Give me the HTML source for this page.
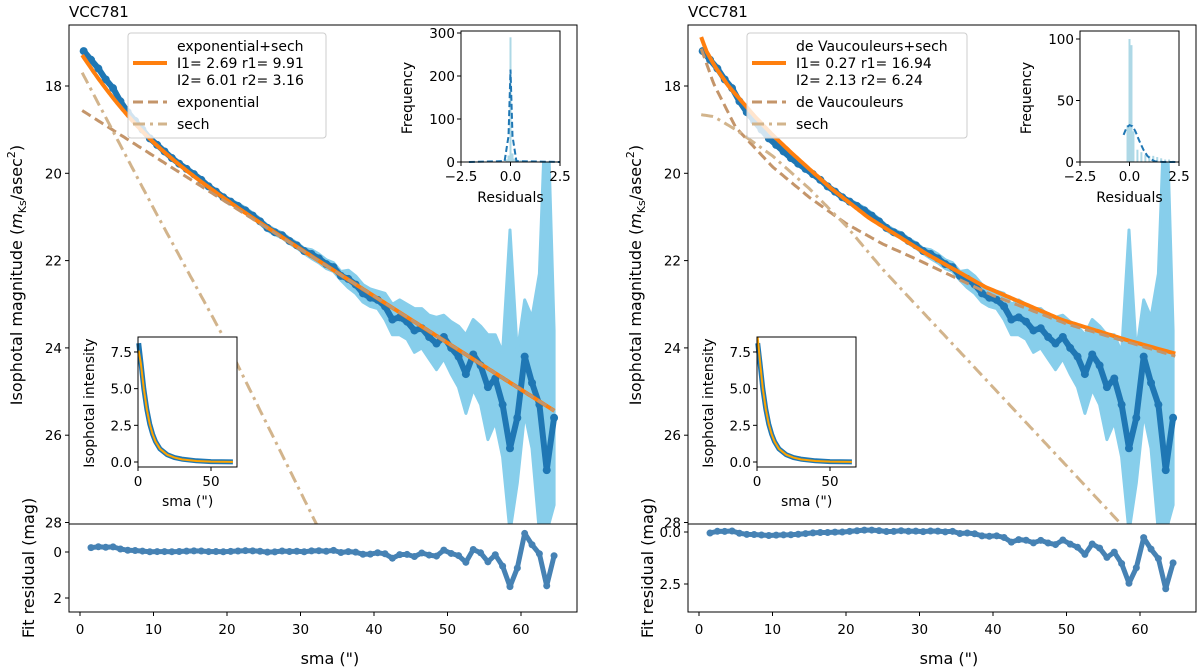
<!DOCTYPE html>
<html><head><meta charset="utf-8">
<style>
html,body{margin:0;padding:0;background:#fff;overflow:hidden;width:1200px;height:672px;}
svg{display:block;overflow:hidden;font-family:"DejaVu Sans","Liberation Sans",sans-serif;}
</style></head>
<body>
<svg id="fig" width="1200" height="672" viewBox="0 0 1200 672" xmlns="http://www.w3.org/2000/svg"></svg>
<script>
// ---- data ----
const SMA = [0.5,1.5,2.5,3.5,4.5,5.5,6.5,7.5,8.5,9.5,10.5,11.5,12.5,13.5,14.5,15.5,16.5,17.5,18.5,19.5,20.5,21.5,22.5,23.5,24.5,25.5,26.5,27.5,28.5,29.5,30.5,31.5,32.5,33.5,34.5,35.5,36.5,37.5,38.5,39.5,40.5,41.5,42.5,43.5,44.5,45.5,46.5,47.5,48.5,49.5,50.5,51.5,52.5,53.5,54.5,55.5,56.5,57.5,58.5,59.5,60.5,61.5,62.5,63.5,64.5];
const OBS = [17.2,17.4,17.6,17.85,18.05,18.35,18.6,18.8,19.0,19.2,19.35,19.5,19.65,19.78,19.9,20.02,20.15,20.3,20.42,20.55,20.65,20.75,20.85,20.97,21.1,21.25,21.35,21.42,21.55,21.65,21.78,21.85,21.95,22.08,22.15,22.35,22.42,22.55,22.75,22.85,22.9,23.05,23.35,23.3,23.4,23.6,23.55,23.75,23.9,23.75,24.0,24.2,24.6,24.15,24.4,24.9,24.7,25.3,26.3,25.6,24.2,24.8,25.3,26.8,25.6];
const ERR = [0.04,0.04,0.04,0.04,0.04,0.04,0.04,0.04,0.04,0.04,0.04,0.04,0.04,0.04,0.04,0.04,0.04,0.04,0.04,0.04,0.04,0.06,0.06,0.06,0.06,0.06,0.06,0.06,0.06,0.06,0.06,0.1,0.1,0.1,0.1,0.1,0.2,0.2,0.2,0.2,0.2,0.3,0.35,0.4,0.4,0.5,0.45,0.5,0.6,0.5,0.6,0.7,0.9,0.8,0.9,1.2,1.0,1.2,5,1.5,1.3,1.5,3,9,2];
// left model components
const EXP_X = [0,65];
const EXP_M = [18.53,25.49];
const SECHL_X = [0,5,10,15,20,25,30,35];
const SECHL_M = [17.6,19.2,20.8,22.35,23.9,25.6,27.3,29.0];
// right model components and total fit
const DEV_X = [0,2,5,10,15,20,25,30,40,50,65];
const DEV_M = [17.0,17.95,18.95,19.85,20.55,21.15,21.62,22.0,22.8,23.45,24.2];
const SECHR_X = [0,2,5,10,15,20,25,30,40,50,60,65];
const SECHR_M = [18.65,18.7,19.0,19.6,20.35,21.2,22.2,23.1,24.9,26.7,28.5,29.4];
const FITR_X = [0.3,1,2.2,4,7.5,10,12.7,15,18,23.1,31,38.9,49.4,58.2,65];
const FITR_M = [16.88,17.2,17.56,18.0,18.68,19.12,19.55,19.9,20.35,21.02,21.85,22.6,23.36,23.82,24.14];
// histogram insets
const HISTL_X = [-2.0,-1.5,-1.0,-0.5,-0.2,-0.1,0.0,0.1,0.2,0.5,1.0,1.5,2.0];
const HISTL_C = [1,1,3,4,6,15,290,20,8,4,2,1,1];
const KDEL_X = [-2.1,-0.3,-0.1,0.0,0.1,0.3,2.5];
const KDEL_C = [0,2,60,215,60,2,0];
const HISTR_X = [-0.1,0.0,0.1,0.2,0.4,0.6,0.8,1.0,1.2,1.4,1.6,1.8,2.0,2.2];
const HISTR_C = [30,100,95,25,10,8,6,5,5,4,3,2,2,1];
const KDER_X = [-0.3,-0.15,0.0,0.15,0.3,0.5,0.7,0.9,1.1,1.3,1.7,2.5];
const KDER_C = [22,28,30,29,25,17,10,5,2,0.5,0,0];
// intensity insets
const INT_X = [0.5,2,4,6,8,10,12,15,20,25,30,40,50,65];
const INT_OBS = [8.1,6.8,5.0,3.6,2.6,1.9,1.4,0.9,0.5,0.3,0.2,0.08,0.03,0.01];
const INT_FIT_L = [7.6,6.7,5.0,3.6,2.6,1.9,1.4,0.9,0.5,0.3,0.18,0.07,0.03,0.01];
const INT_FIT_R = [8.5,6.9,5.0,3.6,2.6,1.9,1.4,0.9,0.5,0.3,0.18,0.07,0.03,0.01];

const NS='http://www.w3.org/2000/svg';
const svg=document.getElementById('fig');
function mk(tag,attrs,parent){const e=document.createElementNS(NS,tag);for(const k in attrs)e.setAttribute(k,attrs[k]);(parent||svg).appendChild(e);return e;}
function interp(xs,ys,x){if(x<=xs[0]){const s=(ys[1]-ys[0])/(xs[1]-xs[0]);return ys[0]+(x-xs[0])*s;}for(let i=1;i<xs.length;i++){if(x<=xs[i]){const t=(x-xs[i-1])/(xs[i]-xs[i-1]);return ys[i-1]+t*(ys[i]-ys[i-1]);}}const n=xs.length;const s=(ys[n-1]-ys[n-2])/(xs[n-1]-xs[n-2]);return ys[n-1]+(x-xs[n-1])*s;}
function comb(a,b){return -2.5*Math.log10(Math.pow(10,-0.4*a)+Math.pow(10,-0.4*b));}
function clamp(v,a,b){return Math.max(a,Math.min(b,v));}
function txt(x,y,s,attrs,parent){const t=mk('text',Object.assign({x:x,y:y,'font-size':13.5,fill:'#000'},attrs||{}),parent);t.textContent=s;return t;}

function panel(P){
  const g=mk('g',{});
  
  
  const dx=P.dx;
  const L=69+dx,R=577+dx,T=25,B=524,RB=612;
  const X=v=>80+dx+v*7.35;
  const Y=m=>86+(m-18)*43.65;
  const Yc=m=>clamp(Y(m),T-8,B+8);
  const RY=r=>P.r0+r*P.rs;
  const RYc=r=>clamp(RY(r),B-6,RB+6);
  const cid='clip'+P.id, rcid='rclip'+P.id;
  const cp=mk('clipPath',{id:cid},g);mk('rect',{x:L,y:T,width:R-L,height:B-T},cp);
  const rcp=mk('clipPath',{id:rcid},g);mk('rect',{x:L,y:B,width:R-L,height:RB-B},rcp);
  const title=txt(L,17,'VCC781',{'font-size':15},g);
  
  
  const main=mk('g',{'clip-path':'url(#'+cid+')'},g);
  
  
  let up=[],lo=[];
  for(let i=0;i<SMA.length;i++){up.push(X(SMA[i]).toFixed(1)+','+Yc(OBS[i]-ERR[i]).toFixed(1));lo.unshift(X(SMA[i]).toFixed(1)+','+Yc(OBS[i]+ERR[i]).toFixed(1));}
  const band=mk('polygon',{points:up.concat(lo).join(' '),fill:'#87ceeb',stroke:'#87ceeb','stroke-width':3,'stroke-linejoin':'round'},main);
  
  
  const opts=SMA.map((s,i)=>X(s).toFixed(1)+','+Yc(OBS[i]).toFixed(1)).join(' ');
  const ol=mk('polyline',{points:opts,fill:'none',stroke:'#1f77b4','stroke-width':6,'stroke-linejoin':'round'},main);
  
  
  SMA.forEach((s,i)=>{const c=mk('circle',{cx:X(s),cy:Yc(OBS[i]),r:4,fill:'#1f77b4'},main);
    
    });
  const fit=P.fit;
  let fp=[];for(let s=0.3;s<=P.xend;s+=0.25)fp.push(X(s).toFixed(1)+','+Yc(fit(s)).toFixed(1));
  const fl=mk('polyline',{points:fp.join(' '),fill:'none',stroke:'#ff7f0e','stroke-width':4},main);
  
  
  let c1=[],c2=[];
  for(let s=0.3;s<=P.xend;s+=0.25){
    const m1=interp(P.c1x,P.c1m,s),m2=interp(P.c2x,P.c2m,s);
    if(Y(m1)<=B+8)c1.push(X(s).toFixed(1)+','+Y(m1).toFixed(1));
    if(Y(m2)<=B+8)c2.push(X(s).toFixed(1)+','+Y(m2).toFixed(1));
  }
  const l1=mk('polyline',{points:c1.join(' '),fill:'none',stroke:'#c4956a','stroke-width':3,'stroke-dasharray':'10,5'},main);
  
  
  const l2=mk('polyline',{points:c2.join(' '),fill:'none',stroke:'#d2b48c','stroke-width':3,'stroke-dasharray':'12,5,3,5'},main);
  
  
  const fr=mk('rect',{x:L,y:T,width:R-L,height:B-T,fill:'none',stroke:'#000','stroke-width':1},g);
  
  
  [18,20,22,24,26,28].forEach(m=>{mk('line',{x1:L-4,x2:L,y1:Y(m),y2:Y(m),stroke:'#000'},g);
    const t=txt(L-7,Y(m)+5,String(m),{'text-anchor':'end'},g);
    
    });
  const yl=mk('text',{x:0,y:0,'font-size':16,'text-anchor':'middle',transform:'translate('+(P.ylx)+',275) rotate(-90)'},g);
  
  
  yl.innerHTML='Isophotal magnitude (<tspan font-style="italic">m</tspan><tspan font-size="11" dy="4">Ks</tspan><tspan dy="-4">/asec</tspan><tspan font-size="11" dy="-7">2</tspan><tspan dy="7">)</tspan>';
  const rg=mk('g',{'clip-path':'url(#'+rcid+')'},g);
  
  
  let rp=[];
  SMA.forEach((s,i)=>{if(s<1.5)return;const r=OBS[i]-fit(s);rp.push(X(s).toFixed(1)+','+RYc(r).toFixed(1));});
  const rl=mk('polyline',{points:rp.join(' '),fill:'none',stroke:'#4682b4','stroke-width':5,'stroke-linejoin':'round'},rg);
  
  
  SMA.forEach((s,i)=>{if(s<1.5)return;const c=mk('circle',{cx:X(s),cy:RYc(OBS[i]-fit(s)),r:3.5,fill:'#4682b4'},rg);
    
    });
  const rf=mk('rect',{x:L,y:B,width:R-L,height:RB-B,fill:'none',stroke:'#000'},g);
  
  
  P.rt.forEach(r=>{mk('line',{x1:L-4,x2:L,y1:RY(r),y2:RY(r),stroke:'#000'},g);
    const t=txt(L-7,RY(r)+5,P.rtl(r),{'text-anchor':'end'},g);
    
    });
  [0,10,20,30,40,50,60].forEach(v=>{mk('line',{x1:X(v),x2:X(v),y1:RB,y2:RB+4,stroke:'#000'},g);
    const t=txt(X(v),RB+22,String(v),{'text-anchor':'middle'},g);
    
    });
  const rl2=txt(0,0,'Fit residual (mag)',{'font-size':16,'text-anchor':'middle',transform:'translate('+(P.ylx+12)+',568) rotate(-90)'},g);
  
  
  const xl=txt(X(34),664,'sma (")',{'font-size':16,'text-anchor':'middle'},g);
  
  
  const lg=mk('g',{},g);
  
  
  mk('rect',{x:P.lgx,y:33,width:P.lgw,height:105,rx:3,fill:'#fff','fill-opacity':0.8,stroke:'#ccc'},lg);
  const sx=P.lgx+5,tx=P.lgx+49;
  mk('line',{x1:sx,x2:sx+34,y1:63,y2:63,stroke:'#ff7f0e','stroke-width':4},lg);
  P.leg1.forEach((s,i)=>{const t=txt(tx,51+i*17,s,{'font-size':14},lg);
    
    });
  mk('line',{x1:sx,x2:sx+34,y1:102,y2:102,stroke:'#c4956a','stroke-width':3,'stroke-dasharray':'10,5'},lg);
  const t2=txt(tx,107,P.leg2,{'font-size':14},lg);
  
  
  mk('line',{x1:sx,x2:sx+34,y1:124,y2:124,stroke:'#d2b48c','stroke-width':3,'stroke-dasharray':'12,5,3,5'},lg);
  const t3=txt(tx,129,'sech',{'font-size':14},lg);
  
  
  const hg=mk('g',{},g);
  
  
  const HL=461+dx,HR=560+dx,HT=31,HB=162;
  const HX=v=>HL+(v+2.5)*(HR-HL)/5, HY=c=>HB-c*P.hs;
  mk('rect',{x:HL,y:HT,width:HR-HL,height:HB-HT,fill:'#fff'},hg);
  P.hx.forEach((v,i)=>{const b=mk('rect',{x:HX(v-0.05),y:HY(P.hc[i]),width:HX(0.1)-HX(0),height:HB-HY(P.hc[i]),fill:'#add8e6'},hg);
    
    });
  const kd=mk('polyline',{points:P.kx.map((v,i)=>HX(v).toFixed(1)+','+HY(P.kc[i]).toFixed(1)).join(' '),fill:'none',stroke:'#1f77b4','stroke-width':2,'stroke-dasharray':'6,3'},hg);
  
  
  mk('rect',{x:HL,y:HT,width:HR-HL,height:HB-HT,fill:'none',stroke:'#000'},hg);
  P.ht.forEach(c=>{mk('line',{x1:HL-4,x2:HL,y1:HY(c),y2:HY(c),stroke:'#000'},hg);txt(HL-6,HY(c)+5,String(c),{'text-anchor':'end'},hg);});
  [[-2.5,'\u22122.5'],[0,'0.0'],[2.5,'2.5']].forEach(a=>{mk('line',{x1:HX(a[0]),x2:HX(a[0]),y1:HB,y2:HB+4,stroke:'#000'},hg);txt(HX(a[0]),HB+19,a[1],{'text-anchor':'middle'},hg);});
  txt(HX(0),HB+40,'Residuals',{'text-anchor':'middle','font-size':14},hg);
  txt(0,0,'Frequency',{'font-size':14,'text-anchor':'middle',transform:'translate('+(HL-49)+',98) rotate(-90)'},hg);
  const ig=mk('g',{},g);
  
  
  const IL=138+dx,IR=237+dx,IT=337,IB=467;
  const IX=v=>IL+v*1.46, IY=v=>462-v*14.67;
  mk('rect',{x:IL,y:IT,width:IR-IL,height:IB-IT,fill:'#fff'},ig);
  const io=mk('polyline',{points:INT_X.map((v,i)=>IX(v).toFixed(1)+','+IY(INT_OBS[i]).toFixed(1)).join(' '),fill:'none',stroke:'#1f77b4','stroke-width':5,'stroke-linejoin':'round'},ig);
  
  
  const ifit=mk('polyline',{points:INT_X.map((v,i)=>IX(v).toFixed(1)+','+IY(P.ifit[i]).toFixed(1)).join(' '),fill:'none',stroke:'#ffa500','stroke-width':2},ig);
  
  
  mk('rect',{x:IL,y:IT,width:IR-IL,height:IB-IT,fill:'none',stroke:'#000'},ig);
  [[7.5,'7.5'],[5,'5.0'],[2.5,'2.5'],[0,'0.0']].forEach(a=>{mk('line',{x1:IL-4,x2:IL,y1:IY(a[0]),y2:IY(a[0]),stroke:'#000'},ig);txt(IL-6,IY(a[0])+5,a[1],{'text-anchor':'end'},ig);});
  [0,50].forEach(v=>{mk('line',{x1:IX(v),x2:IX(v),y1:IB,y2:IB+4,stroke:'#000'},ig);txt(IX(v),IB+19,String(v),{'text-anchor':'middle'},ig);});
  txt(IX(34),506,'sma (")',{'text-anchor':'middle','font-size':14},ig);
  txt(0,0,'Isophotal intensity',{'font-size':14,'text-anchor':'middle',transform:'translate('+(IL-44)+',403) rotate(-90)'},ig);
}

panel({id:'L',name:'left-panel-exponential-sech',dx:0,c1x:EXP_X,c1m:EXP_M,c2x:SECHL_X,c2m:SECHL_M,xend:64.6,
  fit:s=>comb(interp(EXP_X,EXP_M,s),interp(SECHL_X,SECHL_M,s)),
  r0:552,rs:23,rt:[0,2],rtl:r=>String(r),ylx:22,lgx:128,lgw:198,
  leg1:['exponential+sech','I1= 2.69 r1= 9.91','I2= 6.01 r2= 3.16'],leg2:'exponential',
  hx:HISTL_X,hc:HISTL_C,kx:KDEL_X,kc:KDEL_C,hs:0.43,ht:[0,100,200,300],ifit:INT_FIT_L});
panel({id:'R',name:'right-panel-devaucouleurs-sech',dx:619,c1x:DEV_X,c1m:DEV_M,c2x:SECHR_X,c2m:SECHR_M,xend:65,
  fit:s=>interp(FITR_X,FITR_M,s),
  r0:532,rs:20.8,rt:[0,2.5],rtl:r=>r.toFixed(1),ylx:641,lgx:747,lgw:220,
  leg1:['de Vaucouleurs+sech','I1= 0.27 r1= 16.94','I2= 2.13 r2= 6.24'],leg2:'de Vaucouleurs',
  hx:HISTR_X,hc:HISTR_C,kx:KDER_X,kc:KDER_C,hs:1.23,ht:[0,50,100],ifit:INT_FIT_R});
</script>
</body></html>
